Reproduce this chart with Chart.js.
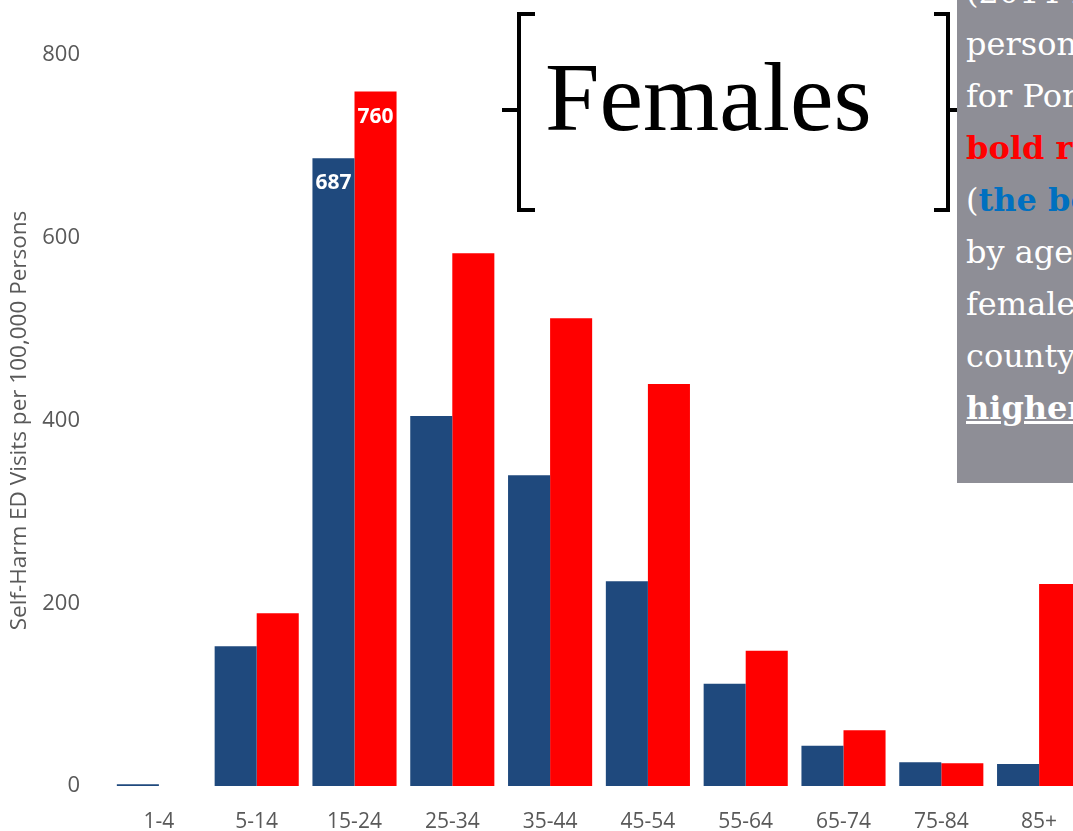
<!DOCTYPE html>
<html>
<head>
<meta charset="utf-8">
<script src="https://cdn.jsdelivr.net/npm/chart.js@4/dist/chart.umd.min.js"></script>
<style>
  html, body { margin: 0; padding: 0; width: 1073px; height: 831px; overflow: hidden; background: #fff; }
  #wrap { position: absolute; left: 0; top: 0; width: 1090px; height: 831px; }
  .ln { position: absolute; background: #000; }
  #females { position: absolute; left: 545px; top: 48px; font-family: "Liberation Serif", serif; font-size: 98px; line-height: 98px; color: #000; white-space: nowrap; }
  #box { position: absolute; left: 957px; top: -40px; width: 200px; height: 523px; background: #8e8e96; overflow: hidden; }
  #boxText { position: absolute; left: 9px; top: 6px; font-family: "DejaVu Serif", serif; font-size: 32px; line-height: 52px; color: #fff; white-space: nowrap; }
  .red { color: #ff0000; font-weight: bold; }
  .blue { color: #0070c0; font-weight: bold; }
  .hi { font-weight: bold; text-decoration: underline; }
</style>
</head>
<body>
<div id="wrap"><canvas id="chart"></canvas></div>

<!-- brackets round the title -->
<div class="ln" style="left:517px; top:12px; width:4px; height:200px;"></div>
<div class="ln" style="left:517px; top:12px; width:18px; height:4px;"></div>
<div class="ln" style="left:517px; top:208px; width:18px; height:4px;"></div>
<div class="ln" style="left:502px; top:108px; width:16px; height:4px;"></div>
<div id="females">Females</div>
<div class="ln" style="left:946px; top:12px; width:4px; height:200px;"></div>
<div class="ln" style="left:934px; top:12px; width:16px; height:4px;"></div>
<div class="ln" style="left:934px; top:208px; width:16px; height:4px;"></div>
<div class="ln" style="left:949px; top:108px; width:8px; height:4px;"></div>

<div id="box">
  <div id="boxText">
    <div>(2014-2018) per 100,000</div>
    <div>persons</div>
    <div>for Portage County</div>
    <div><span class="red">bold red</span> compared</div>
    <div>(<span class="blue">the bold blue</span>)</div>
    <div>by age group.</div>
    <div>females, the</div>
    <div>county rates are</div>
    <div><span class="hi">higher</span></div>
  </div>
</div>

<script>
// Tranche d'âge et taux (par 100 000 personnes)
const ageGroups = ["1-4", "5-14", "15-24", "25-34", "35-44", "45-54", "55-64", "65-74", "75-84", "85+"];
const ohioRates = [2, 153, 687, 405, 340, 224, 112, 44, 26, 24];
const portageRates = [0, 189, 760, 583, 512, 440, 148, 61, 25, 221];
const yTicks = [0, 200, 400, 600, 800];
const showLabel = [false, false, true, false, false, false, false, false, false, false];

// étiquettes blanches en haut des barres choisies
const barLabels = {
    id: "barLabels",
    afterDatasetsDraw(chart) {
        const ctx = chart.ctx;
        ctx.save();
        ctx.fillStyle = "#ffffff";
        ctx.font = "bold 21px 'Open Sans', sans-serif";
        ctx.textAlign = "center";
        ctx.textBaseline = "middle";
        chart.data.datasets.forEach((ds, i) => {
            const meta = chart.getDatasetMeta(i);
            meta.data.forEach((bar, j) => {
                if (!showLabel[j]) return;
                ctx.fillText(ds.data[j], bar.x, bar.y + 25);
            });
        });
        ctx.restore();
    }
};

const ctx = document.getElementById("chart").getContext("2d");
const chart = new Chart(ctx, {
    type: "bar",
    data: {
        labels: ageGroups,
        datasets: [
            {
                label: "Ohio",
                data: ohioRates,
                backgroundColor: "#1f497d",
                borderWidth: 0,
                categoryPercentage: 0.86,
                barPercentage: 1.0,
            },
            {
                label: "Portage County",
                data: portageRates,
                backgroundColor: "#ff0000",
                borderWidth: 0,
                categoryPercentage: 0.86,
                barPercentage: 1.0,
            },
        ],
    },
    options: {
        responsive: true,
        maintainAspectRatio: false,
        animation: false,
        layout: { padding: { top: 55, left: 0, right: 2, bottom: 0 } },
        plugins: {
            legend: { display: false },
            tooltip: { enabled: false },
        },
        scales: {
            x: {
                grid: { display: false },
                border: { display: false },
                ticks: {
                    color: "#595959",
                    padding: 15,
                    font: { family: "'Open Sans', sans-serif", size: 21 },
                },
                afterFit: (s) => { s.height = 45; },
            },
            y: {
                min: 0,
                max: 800,
                grid: { display: false },
                border: { display: false },
                afterBuildTicks: (s) => { s.ticks = yTicks.map((v) => ({ value: v })); },
                ticks: {
                    color: "#595959",
                    padding: 22,
                    font: { family: "'Open Sans', sans-serif", size: 22 },
                },
                title: {
                    display: true,
                    text: "Self-Harm ED Visits per 100,000 Persons",
                    color: "#595959",
                    padding: { top: 6, bottom: 0 },
                    font: { family: "'Open Sans', sans-serif", size: 22.5 },
                },
                afterFit: (s) => { s.width = 110; },
            },
        },
    },
    plugins: [barLabels],
});
</script>
</body>
</html>
